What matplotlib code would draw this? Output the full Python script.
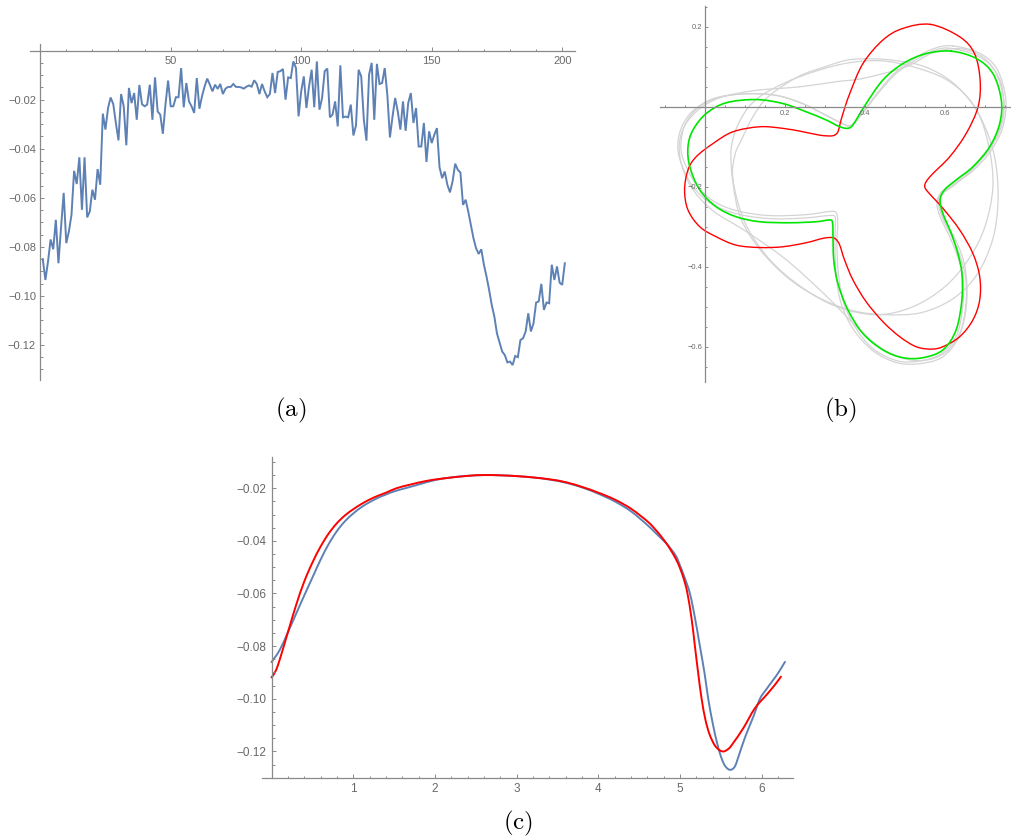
import matplotlib
matplotlib.use('Agg')
import matplotlib.pyplot as plt
from matplotlib.ticker import FixedLocator, FuncFormatter
from matplotlib.path import Path
from matplotlib.patches import PathPatch

plt.rcParams['mathtext.fontset'] = 'cm'
plt.rcParams['font.family'] = ['Liberation Sans', 'DejaVu Sans']

# ---------------- Panel (a): noisy sequence ----------------
a_values = [
    -0.085, -0.0935, -0.086, -0.077, -0.081, -0.069, -0.0867, -0.072, -0.058, -0.0785,
    -0.0737, -0.0669, -0.049, -0.0544, -0.0435, -0.0649, -0.0435, -0.068, -0.0656, -0.0567,
    -0.0608, -0.0483, -0.0547, -0.0257, -0.0322, -0.0234, -0.0191, -0.0218, -0.0295, -0.0366,
    -0.0177, -0.0227, -0.0386, -0.0152, -0.0214, -0.0173, -0.0282, -0.014, -0.0218, -0.0227,
    -0.022, -0.0139, -0.0282, -0.0109, -0.0248, -0.0261, -0.0339, -0.022, -0.0122, -0.0227,
    -0.0227, -0.019, -0.019, -0.0071, -0.0231, -0.0132, -0.0207, -0.0227, -0.0254, -0.0112,
    -0.0237, -0.0186, -0.0146, -0.0114, -0.0139, -0.0166, -0.0139, -0.0156, -0.0136, -0.0177,
    -0.0155, -0.0148, -0.0148, -0.0136, -0.0148, -0.0148, -0.015, -0.0155, -0.0147, -0.0142,
    -0.0147, -0.0121, -0.0136, -0.0177, -0.0136, -0.0166, -0.019, -0.0177, -0.0091, -0.0173,
    -0.0087, -0.0084, -0.0075, -0.02, -0.0109, -0.0112, -0.0044, -0.0071, -0.0268, -0.0166,
    -0.0105, -0.0234, -0.0146, -0.0078, -0.0231, -0.0044, -0.0241, -0.0193, -0.0084, -0.0073,
    -0.0272, -0.0261, -0.0207, -0.0309, -0.006, -0.0272, -0.0269, -0.0272, -0.022, -0.0346,
    -0.0305, -0.0078, -0.0105, -0.0282, -0.0367, -0.0098, -0.005, -0.0282, -0.0054, -0.0136,
    -0.0132, -0.0071, -0.018, -0.0354, -0.0268, -0.0193, -0.0248, -0.0322, -0.0207, -0.0327,
    -0.0214, -0.0173, -0.0295, -0.0234, -0.0391, -0.0391, -0.0295, -0.0454, -0.0329, -0.0377,
    -0.0343, -0.0316, -0.0476, -0.052, -0.0493, -0.0547, -0.0578, -0.0533, -0.0461, -0.0486,
    -0.0497, -0.0629, -0.0608, -0.0656, -0.071, -0.0765, -0.0806, -0.0829, -0.081, -0.0873,
    -0.0921, -0.0976, -0.1037, -0.1084, -0.1153, -0.119, -0.1227, -0.1241, -0.1271, -0.1268,
    -0.1282, -0.1245, -0.125, -0.118, -0.1173, -0.1145, -0.1071, -0.1145, -0.1112, -0.1027,
    -0.1023, -0.0951, -0.1057, -0.1027, -0.103, -0.0873, -0.0935, -0.088, -0.0946, -0.0955,
    -0.0867,
]
a_index = list(range(1, len(a_values) + 1))

# ---------------- Panel (b): closed curves ----------------
red_x = [0.564, 0.637, 0.674, 0.688, 0.683, 0.653, 0.612, 0.570, 0.553, 0.550, 0.562, 0.595,
         0.637, 0.670, 0.687, 0.687, 0.670, 0.637, 0.595, 0.566, 0.528, 0.487, 0.445, 0.403,
         0.370, 0.349, 0.337, 0.328, 0.318, 0.295, 0.253, 0.195, 0.137, 0.078, 0.028, -0.013,
         -0.0425, -0.051, -0.0425, -0.022, 0.020, 0.070, 0.137, 0.195, 0.245, 0.287, 0.312,
         0.324, 0.3325, 0.338, 0.345, 0.362, 0.395, 0.445, 0.495]
red_y = [0.206, 0.175, 0.133, 0.067, 0.0, -0.067, -0.125, -0.167, -0.1875, -0.2017, -0.218, -0.254,
         -0.308, -0.367, -0.425, -0.483, -0.533, -0.575, -0.600, -0.606, -0.600, -0.575, -0.5375, -0.4875,
         -0.433, -0.383, -0.346, -0.332, -0.327, -0.329, -0.340, -0.350, -0.352, -0.346, -0.325, -0.300,
         -0.258, -0.208, -0.158, -0.125, -0.092, -0.0625, -0.050, -0.054, -0.0625, -0.071, -0.073,
         -0.071, -0.0625, -0.042, -0.017, 0.033, 0.108, 0.167, 0.196]

green_x = [0.616, 0.678, 0.720, 0.741, 0.737, 0.712, 0.670, 0.628, 0.599, 0.588, 0.595, 0.616,
           0.6325, 0.6425, 0.6425, 0.628, 0.595, 0.545, 0.495, 0.445, 0.395, 0.3575, 0.3325, 0.322,
           0.320, 0.319, 0.312, 0.278, 0.212, 0.137, 0.078, 0.028, -0.013, -0.038, -0.0425, -0.030,
           0.003, 0.053, 0.128, 0.195, 0.253, 0.303, 0.3325, 0.353, 0.366, 0.378, 0.403, 0.445,
           0.495, 0.553]
green_y = [0.139, 0.121, 0.083, 0.017, -0.042, -0.100, -0.150, -0.183, -0.208, -0.233, -0.267, -0.317,
           -0.367, -0.417, -0.483, -0.558, -0.608, -0.6275, -0.6275, -0.608, -0.567, -0.508, -0.442, -0.383,
           -0.317, -0.29, -0.283, -0.2875, -0.29, -0.2875, -0.275, -0.25, -0.208, -0.150, -0.100, -0.058,
           -0.017, 0.010, 0.018, 0.008, -0.0125, -0.033, -0.048, -0.054, -0.050, -0.033, 0.008, 0.067,
           0.108, 0.133]

grey1_x = [0.62, 0.685, 0.73, 0.752, 0.745, 0.715, 0.67, 0.62, 0.592, 0.585, 0.595, 0.62, 0.64,
           0.652, 0.652, 0.635, 0.595, 0.54, 0.48, 0.42, 0.37, 0.34, 0.328, 0.325, 0.326, 0.325,
           0.31, 0.25, 0.17, 0.09, 0.02, -0.03, -0.06, -0.068, -0.058, -0.03, 0.02, 0.09, 0.17,
           0.24, 0.30, 0.34, 0.36, 0.375, 0.39, 0.42, 0.47, 0.53, 0.58]
grey1_y = [0.152, 0.135, 0.095, 0.02, -0.05, -0.11, -0.16, -0.195, -0.22, -0.245, -0.28, -0.33, -0.38,
           -0.43, -0.50, -0.575, -0.625, -0.642, -0.64, -0.61, -0.555, -0.49, -0.42, -0.35, -0.30, -0.275,
           -0.272, -0.278, -0.28, -0.27, -0.245, -0.20, -0.14, -0.095, -0.05, -0.01, 0.02, 0.032, 0.03,
           0.01, -0.02, -0.04, -0.048, -0.04, -0.02, 0.02, 0.08, 0.125, 0.148]

grey2_x = [0.615, 0.68, 0.725, 0.747, 0.742, 0.713, 0.668, 0.62, 0.59, 0.58, 0.588, 0.612, 0.632,
           0.645, 0.645, 0.63, 0.59, 0.535, 0.48, 0.42, 0.375, 0.345, 0.333, 0.33, 0.332, 0.328,
           0.31, 0.25, 0.16, 0.08, 0.02, -0.025, -0.055, -0.06, -0.05, -0.02, 0.03, 0.10, 0.18,
           0.25, 0.31, 0.345, 0.362, 0.378, 0.40, 0.43, 0.48, 0.54, 0.58]
grey2_y = [0.146, 0.128, 0.09, 0.018, -0.046, -0.105, -0.155, -0.19, -0.215, -0.24, -0.275, -0.325,
           -0.375, -0.425, -0.495, -0.57, -0.618, -0.636, -0.635, -0.605, -0.55, -0.485, -0.41, -0.34,
           -0.29, -0.265, -0.262, -0.27, -0.272, -0.26, -0.235, -0.19, -0.13, -0.09, -0.045, -0.005,
           0.022, 0.032, 0.028, 0.005, -0.025, -0.043, -0.047, -0.035, -0.01, 0.03, 0.085, 0.125, 0.143]

grey3_x = [0.066, 0.09, 0.13, 0.20, 0.28, 0.36, 0.44, 0.52, 0.60, 0.66, 0.70, 0.725, 0.733, 0.72,
           0.68, 0.62, 0.54, 0.45, 0.37, 0.29, 0.21, 0.14, 0.09, 0.07]
grey3_y = [-0.10, -0.03, 0.02, 0.06, 0.09, 0.11, 0.115, 0.10, 0.07, 0.02, -0.05, -0.13, -0.23, -0.33,
           -0.42, -0.48, -0.515, -0.52, -0.51, -0.48, -0.43, -0.36, -0.28, -0.19]

grey4_x = [0.07, 0.075, 0.091, 0.12, 0.158, 0.2325, 0.30, 0.3575, 0.42, 0.48, 0.55, 0.62, 0.68,
           0.71, 0.72, 0.70, 0.66, 0.60, 0.52, 0.43, 0.33, 0.24, 0.16, 0.10]
grey4_y = [-0.183, -0.12, -0.083, -0.025, 0.025, 0.075, 0.10, 0.117, 0.12, 0.115, 0.10, 0.06, -0.01,
           -0.10, -0.20, -0.30, -0.38, -0.45, -0.50, -0.52, -0.50, -0.45, -0.38, -0.29]

grey5_x = [0.237, 0.33, 0.395, 0.503, 0.57, 0.64, 0.70, 0.74, 0.745, 0.72, 0.675, 0.625, 0.59,
           0.585, 0.60, 0.63, 0.65, 0.655, 0.64, 0.60, 0.54, 0.47, 0.40, 0.30, 0.20, 0.10, 0.02,
           -0.035, -0.062, -0.06, -0.03, 0.03, 0.12]
grey5_y = [0.05, 0.063, 0.071, 0.10, 0.135, 0.145, 0.12, 0.06, -0.02, -0.09, -0.15, -0.195, -0.22,
           -0.245, -0.285, -0.34, -0.40, -0.48, -0.56, -0.615, -0.635, -0.62, -0.57, -0.47, -0.38,
           -0.31, -0.26, -0.20, -0.13, -0.07, -0.02, 0.02, 0.04]

# ---------------- Panel (c): smooth curves ----------------
c_blue_x = [0.0, 0.1, 0.2, 0.3, 0.4, 0.5, 0.6, 0.7, 0.8, 0.9, 1.0, 1.1, 1.2, 1.3, 1.4, 1.5, 1.65,
            1.8, 2.0, 2.2, 2.4, 2.6, 2.8, 3.0, 3.2, 3.4, 3.6, 3.81, 4.0, 4.2, 4.4, 4.6, 4.7, 4.8,
            4.855, 4.95, 5.0, 5.05, 5.12, 5.18, 5.242, 5.3, 5.344, 5.4, 5.45, 5.5, 5.55, 5.61,
            5.67, 5.73, 5.8, 5.9, 5.977, 6.06, 6.14, 6.2, 6.283]
c_blue_y = [-0.0861, -0.0815, -0.0748, -0.0678, -0.0608, -0.0540, -0.0472, -0.0412, -0.0363, -0.0325,
            -0.0296, -0.0272, -0.0253, -0.0237, -0.0224, -0.0212, -0.0199, -0.0186, -0.0169, -0.0159,
            -0.0153, -0.0150, -0.0151, -0.0154, -0.0159, -0.0167, -0.0179, -0.0198, -0.0221, -0.0250,
            -0.0288, -0.0340, -0.0370, -0.0400, -0.0418, -0.0458, -0.0495, -0.0535, -0.0600, -0.0690,
            -0.0800, -0.0905, -0.1000, -0.1095, -0.1165, -0.1220, -0.1255, -0.1270, -0.1257, -0.1205,
            -0.1142, -0.1065, -0.1000, -0.0962, -0.0928, -0.0902, -0.0860]

c_red_x = [0.0, 0.05, 0.1, 0.2, 0.3, 0.4, 0.5, 0.6, 0.7, 0.8, 0.9, 1.0, 1.1, 1.2, 1.3,
           1.4, 1.53, 1.7, 1.9, 2.1, 2.4, 2.6, 2.8, 3.0, 3.2, 3.4, 3.6, 3.81, 4.0, 4.2, 4.4, 4.6,
           4.7, 4.8, 4.875, 4.95, 5.0, 5.05, 5.09, 5.14, 5.181, 5.22, 5.263, 5.31, 5.36, 5.42, 5.48,
           5.536, 5.6, 5.65, 5.773, 5.915, 6.058, 6.16, 6.234]
c_red_y = [-0.0919, -0.0895, -0.0852, -0.0748, -0.0645, -0.0555, -0.0483, -0.0422, -0.0372,
           -0.0333, -0.0303, -0.0280, -0.0260, -0.0243, -0.0229, -0.0217, -0.0200, -0.0186, -0.0172,
           -0.0163, -0.0153, -0.0150, -0.0151, -0.0154, -0.0159, -0.0166, -0.0177, -0.0196, -0.0217,
           -0.0243, -0.0278, -0.0326, -0.0358, -0.0396, -0.0430, -0.0470, -0.0505, -0.0550, -0.0600,
           -0.0695, -0.0800, -0.0900, -0.1000, -0.1080, -0.1135, -0.1175, -0.1195, -0.1200, -0.1188,
           -0.1168, -0.1112, -0.1036, -0.0985, -0.0947, -0.0916]

# ---------------- styling helpers ----------------
W, H = 1012, 839
fig = plt.figure(figsize=(W / 100, H / 100), dpi=100)

AXC = '#8a8a8a'
LBL = '#686868'
BLUE = '#5E81B5'


def px_axes(x0, y0, x1, y1):
    return fig.add_axes([x0 / W, 1 - y1 / H, (x1 - x0) / W, (y1 - y0) / H])


def minus_fmt(digits):
    def f(v, p):
        s = f'{v:.{digits}f}'
        return s.replace('-', '\u2212')
    return FuncFormatter(f)


def style(ax, xpos, ypos, fs, padx, pady):
    for s in ['top', 'right']:
        ax.spines[s].set_visible(False)
    ax.spines['left'].set_position(('data', xpos))
    ax.spines['bottom'].set_position(('data', ypos))
    for s in ['left', 'bottom']:
        ax.spines[s].set_color(AXC)
        ax.spines[s].set_linewidth(0.9)
    ax.tick_params(which='both', direction='in', color=AXC, labelcolor=LBL,
                   labelsize=fs, width=0.7)
    ax.tick_params(which='major', length=3.2)
    ax.tick_params(which='minor', length=1.8)
    ax.tick_params(axis='x', pad=padx)
    ax.tick_params(axis='y', pad=pady)
    ax.patch.set_alpha(0)


def smooth_curve(ax, xs, ys, closed, **kw):
    """Draw a smooth curve through the given points using cubic Bezier segments
    (Catmull-Rom tangents), in data coordinates."""
    pts = list(zip(xs, ys))
    n = len(pts)
    verts = [pts[0]]
    codes = [Path.MOVETO]
    nseg = n if closed else n - 1
    for i in range(nseg):
        p1 = pts[i]
        p2 = pts[(i + 1) % n]
        p0 = pts[(i - 1) % n] if (closed or i > 0) else p1
        p3 = pts[(i + 2) % n] if (closed or i + 2 < n) else p2
        c1 = (p1[0] + (p2[0] - p0[0]) / 6, p1[1] + (p2[1] - p0[1]) / 6)
        c2 = (p2[0] - (p3[0] - p1[0]) / 6, p2[1] - (p3[1] - p1[1]) / 6)
        verts += [c1, c2, p2]
        codes += [Path.CURVE4] * 3
    patch = PathPatch(Path(verts, codes), fill=False, capstyle='round',
                      joinstyle='round', **kw)
    ax.add_patch(patch)
    return patch


# ---------------- Panel (a) ----------------
axa = px_axes(30, 44, 575, 380)
axa.plot(a_index, a_values, color=BLUE, lw=1.4, solid_joinstyle='miter')
axa.set_xlim(-3.9, 204.9)
axa.set_ylim(-0.1343, 0.0027)
style(axa, 0, 0, 8, 4, 3)
axa.xaxis.set_major_locator(FixedLocator([50, 100, 150, 200]))
axa.xaxis.set_minor_locator(FixedLocator([v for v in range(10, 201, 10) if v % 50]))
axa.xaxis.set_major_formatter(minus_fmt(0))
axa.yaxis.set_major_locator(FixedLocator([-0.02, -0.04, -0.06, -0.08, -0.10, -0.12]))
axa.yaxis.set_minor_locator(FixedLocator([-0.005 * k for k in range(1, 27) if k % 4]))
axa.yaxis.set_major_formatter(minus_fmt(2))

# ---------------- Panel (b) ----------------
axb = px_axes(660, 6, 1011.7, 381.7)
grey_curves = [(grey3_x, grey3_y), (grey4_x, grey4_y), (grey5_x, grey5_y),
               (grey1_x, grey1_y), (grey2_x, grey2_y)]
for gx, gy in grey_curves:
    smooth_curve(axb, gx, gy, True, edgecolor='#d4d4d4', lw=0.9)
smooth_curve(axb, red_x, red_y, True, edgecolor='#ff0000', lw=1.0)
smooth_curve(axb, green_x, green_y, True, edgecolor='#00e600', lw=1.2)
axb.set_xlim(-0.1125, 0.767)
axb.set_ylim(-0.6875, 0.252)
style(axb, 0, 0, 5.4, 2, 2)
axb.xaxis.set_major_locator(FixedLocator([0.2, 0.4, 0.6]))
axb.xaxis.set_minor_locator(FixedLocator([-0.1, -0.05, 0.05, 0.1, 0.15, 0.25, 0.3, 0.35,
                                          0.45, 0.5, 0.55, 0.65, 0.7, 0.75]))
axb.xaxis.set_major_formatter(minus_fmt(1))
axb.yaxis.set_major_locator(FixedLocator([0.2, -0.2, -0.4, -0.6]))
axb.yaxis.set_minor_locator(FixedLocator([0.25, 0.15, 0.1, 0.05, -0.05, -0.1, -0.15, -0.25,
                                          -0.3, -0.35, -0.45, -0.5, -0.55, -0.65]))
axb.yaxis.set_major_formatter(minus_fmt(1))
axb.tick_params(which='major', length=2.5)
axb.tick_params(which='minor', length=1.4)

# ---------------- Panel (c) ----------------
axc = px_axes(261.7, 457.3, 793.3, 777.7)
smooth_curve(axc, c_blue_x, c_blue_y, False, edgecolor=BLUE, lw=1.4)
smooth_curve(axc, c_red_x, c_red_y, False, edgecolor='#ff0000', lw=1.4)
axc.set_xlim(-0.12, 6.385)
axc.set_ylim(-0.13, -0.00825)
style(axc, 0, -0.13, 8.5, 4, 3.5)
axc.xaxis.set_major_locator(FixedLocator([1, 2, 3, 4, 5, 6]))
axc.xaxis.set_minor_locator(FixedLocator([k * 0.2 for k in range(1, 32) if k % 5]))
axc.xaxis.set_major_formatter(minus_fmt(0))
axc.yaxis.set_major_locator(FixedLocator([-0.02, -0.04, -0.06, -0.08, -0.10, -0.12]))
axc.yaxis.set_minor_locator(FixedLocator([-0.005 * k for k in range(2, 27) if k % 4]))
axc.yaxis.set_major_formatter(minus_fmt(2))

# ---------------- sub-captions ----------------
fig.text(291 / W, 1 - 410 / H, r'$(\mathrm{a})$', fontsize=18, ha='center', va='center')
fig.text(840 / W, 1 - 410 / H, r'$(\mathrm{b})$', fontsize=18, ha='center', va='center')
fig.text(518 / W, 1 - 823 / H, r'$(\mathrm{c})$', fontsize=18, ha='center', va='center')

fig.savefig('out.png', dpi=100)
